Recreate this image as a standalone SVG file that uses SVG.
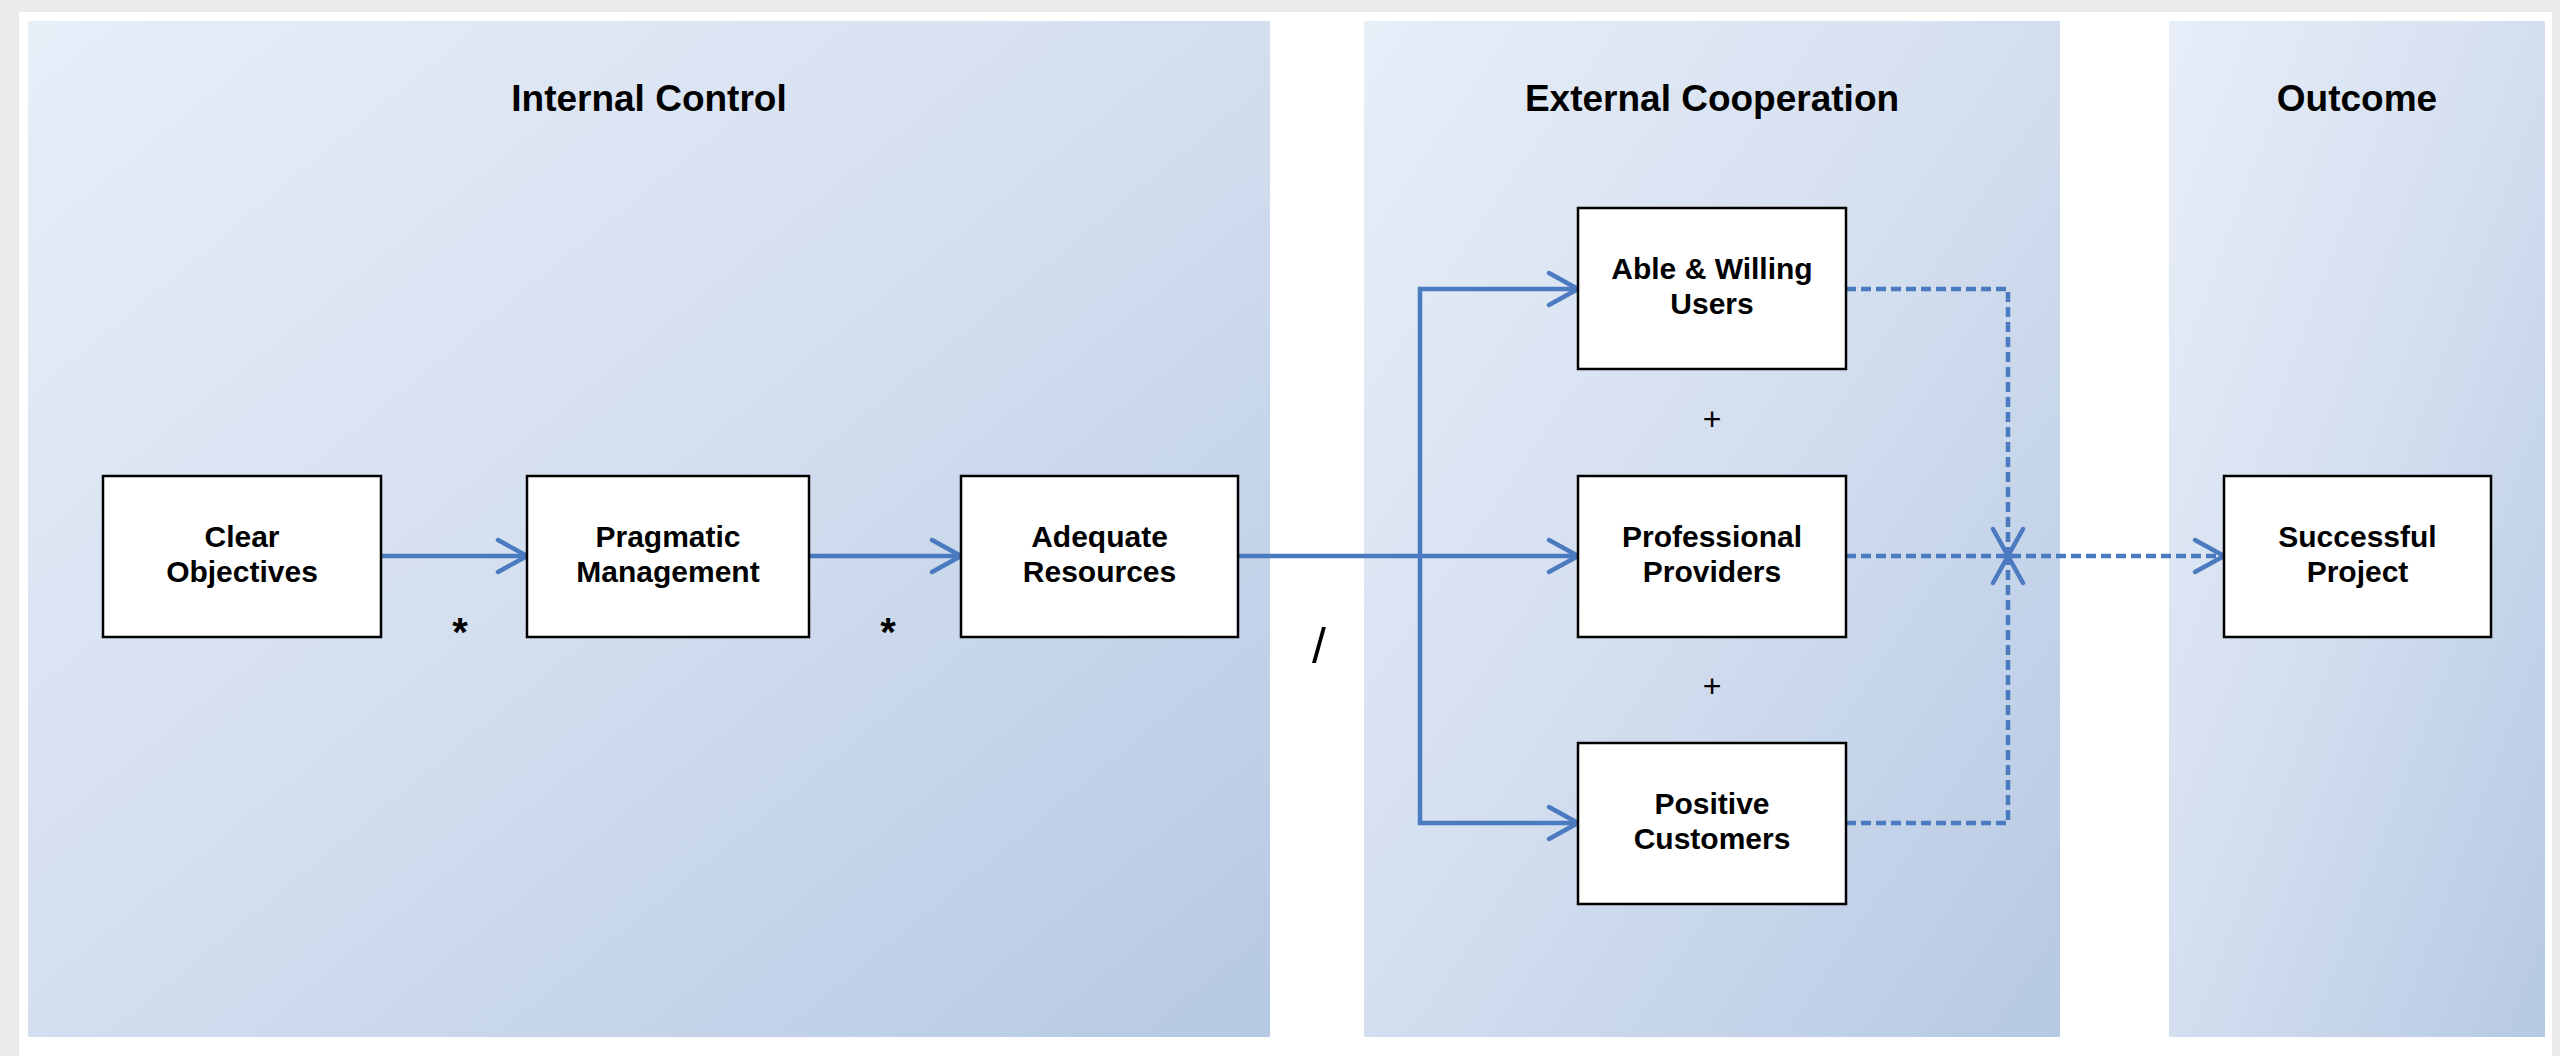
<svg xmlns="http://www.w3.org/2000/svg" width="2560" height="1056" viewBox="0 0 2560 1056">
  <defs>
    <linearGradient id="panelGrad" x1="0" y1="0" x2="1" y2="1">
      <stop offset="0" stop-color="#e8eef8"/>
      <stop offset="0.5" stop-color="#d3deef"/>
      <stop offset="1" stop-color="#b6c9e3"/>
    </linearGradient>
    <marker id="arrowOpen" markerUnits="userSpaceOnUse" viewBox="-34 -20 40 40" markerWidth="40" markerHeight="40" refX="0" refY="0" orient="auto">
      <path d="M -29 -16 L 0 0 L -29 16" fill="none" stroke="#4a7abf" stroke-width="4.5" stroke-linecap="round" stroke-linejoin="round"/>
    </marker>
    <marker id="arrowX" markerUnits="userSpaceOnUse" viewBox="-34 -20 40 40" markerWidth="40" markerHeight="40" refX="0" refY="0" orient="auto">
      <path d="M -27 -15 L 0 0 L -27 15" fill="none" stroke="#4a7abf" stroke-width="4.5" stroke-linecap="round" stroke-linejoin="round"/>
    </marker>
  </defs>
  <style>
    .panel { fill: url(#panelGrad); }
    .title { font-family: "Liberation Sans", Arial, sans-serif; font-weight: bold; font-size: 37px; fill: #000; text-anchor: middle; }
    .box { fill: #ffffff; stroke: #000000; stroke-width: 2.5; }
    .label { font-family: "Liberation Sans", Arial, sans-serif; font-weight: bold; font-size: 30px; fill: #000; text-anchor: middle; }
    .op { font-family: "Liberation Sans", Arial, sans-serif; font-size: 32px; fill: #000; text-anchor: middle; }
    .slash { font-family: "Liberation Sans", Arial, sans-serif; font-size: 50px; fill: #000; text-anchor: middle; }
    .opb { font-family: "Liberation Sans", Arial, sans-serif; font-weight: bold; font-size: 40px; fill: #000; text-anchor: middle; }
    .solid { fill: none; stroke: #4a7abf; stroke-width: 4.5; }
    .dashed { fill: none; stroke: #4a7abf; stroke-width: 4.5; stroke-dasharray: 10 5; }
  </style>

  <rect x="0" y="0" width="2560" height="1056" fill="#ebebeb"/>
  <rect x="19" y="12" width="2533" height="1044" fill="#ffffff"/>

  <g id="panels">
    <g id="panel-internal">
      <rect class="panel" x="28" y="21" width="1242" height="1016"/>
      <text class="title" x="649" y="111">Internal Control</text>
    </g>
    <g id="panel-external">
      <rect class="panel" x="1364" y="21" width="696" height="1016"/>
      <text class="title" x="1712" y="111">External Cooperation</text>
    </g>
    <g id="panel-outcome">
      <rect class="panel" x="2169" y="21" width="376" height="1016"/>
      <text class="title" x="2357" y="111">Outcome</text>
    </g>
  </g>

  <g id="connectors">
    <path class="solid" d="M 381 556 H 527" marker-end="url(#arrowOpen)"/>
    <path class="solid" d="M 809 556 H 961" marker-end="url(#arrowOpen)"/>
    <path class="solid" d="M 1238 556 H 1578" marker-end="url(#arrowOpen)"/>
    <path class="solid" d="M 1420 556 V 289 H 1578" marker-end="url(#arrowOpen)"/>
    <path class="solid" d="M 1420 556 V 823 H 1578" marker-end="url(#arrowOpen)"/>
    <path class="dashed" d="M 1846 289 H 2008 V 556" marker-end="url(#arrowX)"/>
    <path class="dashed" d="M 1846 823 H 2008 V 556" marker-end="url(#arrowX)"/>
    <path class="dashed" d="M 1846 556 H 2224" marker-end="url(#arrowOpen)"/>
  </g>

  <g id="operators">
    <text class="opb" x="460" y="646">*</text>
    <text class="opb" x="888" y="646">*</text>
    <text class="slash" x="1319" y="663">/</text>
    <text class="op" x="1712" y="430">+</text>
    <text class="op" x="1712" y="697">+</text>
  </g>

  <g id="node-clear-objectives">
    <rect class="box" x="103" y="476" width="278" height="161"/>
    <text class="label" x="242" y="546.5">Clear</text>
    <text class="label" x="242" y="581.5">Objectives</text>
  </g>
  <g id="node-pragmatic-management">
    <rect class="box" x="527" y="476" width="282" height="161"/>
    <text class="label" x="668" y="546.5">Pragmatic</text>
    <text class="label" x="668" y="581.5">Management</text>
  </g>
  <g id="node-adequate-resources">
    <rect class="box" x="961" y="476" width="277" height="161"/>
    <text class="label" x="1099.5" y="546.5">Adequate</text>
    <text class="label" x="1099.5" y="581.5">Resources</text>
  </g>
  <g id="node-able-willing-users">
    <rect class="box" x="1578" y="208" width="268" height="161"/>
    <text class="label" x="1712" y="278.5">Able &amp; Willing</text>
    <text class="label" x="1712" y="313.5">Users</text>
  </g>
  <g id="node-professional-providers">
    <rect class="box" x="1578" y="476" width="268" height="161"/>
    <text class="label" x="1712" y="546.5">Professional</text>
    <text class="label" x="1712" y="581.5">Providers</text>
  </g>
  <g id="node-positive-customers">
    <rect class="box" x="1578" y="743" width="268" height="161"/>
    <text class="label" x="1712" y="813.5">Positive</text>
    <text class="label" x="1712" y="848.5">Customers</text>
  </g>
  <g id="node-successful-project">
    <rect class="box" x="2224" y="476" width="267" height="161"/>
    <text class="label" x="2357.5" y="546.5">Successful</text>
    <text class="label" x="2357.5" y="581.5">Project</text>
  </g>
</svg>
